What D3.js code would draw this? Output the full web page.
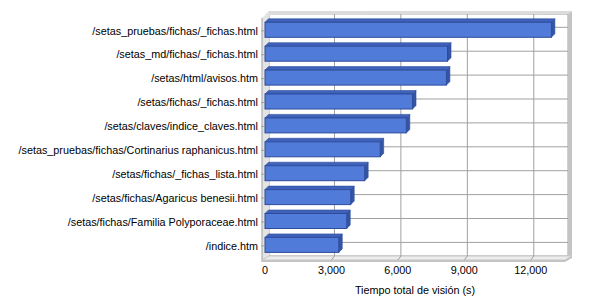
<!DOCTYPE html>
<html>
<head>
<meta charset="utf-8">
<script src="https://cdn.jsdelivr.net/npm/d3@7"></script>
<style>
  body { margin: 0; background: #fff; }
  text { font-family: "Liberation Sans", Arial, sans-serif; font-size: 10.8px; fill: #000; }
</style>
</head>
<body>
<svg id="chart" width="600" height="300"></svg>
<script>
// Data
var pages = [
  "/setas_pruebas/fichas/_fichas.html",
  "/setas_md/fichas/_fichas.html",
  "/setas/html/avisos.htm",
  "/setas/fichas/_fichas.html",
  "/setas/claves/indice_claves.html",
  "/setas_pruebas/fichas/Cortinarius raphanicus.html",
  "/setas/fichas/_fichas_lista.html",
  "/setas/fichas/Agaricus benesii.html",
  "/setas/fichas/Familia Polyporaceae.html",
  "/indice.htm"
];
var seconds = [12930, 8240, 8190, 6660, 6380, 5200, 4500, 3870, 3690, 3330];
var ticks = [0, 3000, 6000, 9000, 12000];
var axisTitle = "Tiempo total de visión (s)";

// pseudo 3d look
var depth = 4, barDepth = 3.5;
var barFront = "#517bd8", barTop = "#3f62bb", barSide = "#3454a6", barLine = "#2e4c9c";
var wallLine = "#a0a0a0", wallFill = "#e4e4e4", wallEdge = "#c4c4c4";

var svg = d3.select("#chart");

var x = d3.scaleLinear().domain([0, 13500]).range([265, 564]);
var y = d3.scaleBand().domain(pages).range([17.85, 256.85])
    .paddingInner(0.372).paddingOuter(0.186);

var floorY = 260, topY = 14;

// back wall
svg.append("rect")
    .attr("x", x(0) + depth).attr("y", topY)
    .attr("width", x.range()[1] - x(0)).attr("height", floorY - depth - topY)
    .attr("fill", "#fff").attr("stroke", wallLine).attr("stroke-width", 1);

// top edge of wall
svg.append("polygon")
    .attr("points", [[x(0), topY + 1], [x(0) + depth, topY - 3], [x.range()[1] + depth + 4, topY - 3], [x.range()[1] + depth, topY]].join(" "))
    .attr("fill", "#dcdcdc");

// right edge thickness
svg.append("polygon")
    .attr("points", [[x.range()[1] + depth, topY], [x.range()[1] + depth + 4, topY - 3], [x.range()[1] + depth + 4, floorY - 5], [x.range()[1] + depth, floorY - 1]].join(" "))
    .attr("fill", wallEdge);

// left wall
svg.append("polygon")
    .attr("points", [[x(0) - 3, topY + 4], [x(0) + depth, topY - 2], [x(0) + depth, floorY - depth], [x(0) - 3, floorY + 2]].join(" "))
    .attr("fill", wallFill);
svg.append("line")
    .attr("x1", x(0) - 3).attr("x2", x(0) - 3).attr("y1", topY + 4).attr("y2", floorY + 2)
    .attr("stroke", wallLine);

// floor
svg.append("polygon")
    .attr("points", [[x(0) - 3, floorY], [x(0) + depth, floorY - depth], [x.range()[1] + depth + 4, floorY - depth], [x.range()[1] + 1, floorY]].join(" "))
    .attr("fill", "#ececec").attr("stroke", "#c8c8c8");
svg.append("polygon")
    .attr("points", [[x(0) - 3, floorY], [x.range()[1] + 1, floorY], [x.range()[1] + depth + 4, floorY - depth], [x.range()[1] + depth + 4, floorY - depth + 2], [x.range()[1] + 1, floorY + 2], [x(0) - 3, floorY + 2]].join(" "))
    .attr("fill", wallEdge);

// vertical gridlines on back wall and floor
svg.selectAll(".vgrid").data(ticks.slice(1)).enter().append("line")
    .attr("class", "vgrid")
    .attr("x1", function(d) { return x(d) + 3; }).attr("x2", function(d) { return x(d) + 3; })
    .attr("y1", topY).attr("y2", floorY - depth)
    .attr("stroke", wallLine);
svg.selectAll(".fgrid").data(ticks.slice(1)).enter().append("line")
    .attr("class", "fgrid")
    .attr("x1", function(d) { return x(d); }).attr("x2", function(d) { return x(d) + 3; })
    .attr("y1", floorY).attr("y2", floorY - depth)
    .attr("stroke", wallLine);

// horizontal gridlines (category centres on back wall)
svg.selectAll(".hgrid").data(pages).enter().append("line")
    .attr("class", "hgrid")
    .attr("x1", x(0) + depth).attr("x2", x.range()[1] + depth)
    .attr("y1", function(d) { return y(d) + y.bandwidth() / 2 - 2.5; })
    .attr("y2", function(d) { return y(d) + y.bandwidth() / 2 - 2.5; })
    .attr("stroke", wallLine);

// bars
var bars = svg.selectAll(".bar").data(pages).enter().append("g").attr("class", "bar");
var h = y.bandwidth();
bars.append("polygon")
    .attr("points", function(d, i) {
      var x0 = x(0), x1 = x(seconds[i]), t = y(d);
      return [[x0, t], [x0 + barDepth, t - barDepth], [x1 + barDepth, t - barDepth], [x1, t]].join(" ");
    })
    .attr("fill", barTop).attr("stroke", barLine).attr("stroke-width", 0.6);
bars.append("polygon")
    .attr("points", function(d, i) {
      var x1 = x(seconds[i]), t = y(d);
      return [[x1, t], [x1 + barDepth, t - barDepth], [x1 + barDepth, t + h - barDepth], [x1, t + h]].join(" ");
    })
    .attr("fill", barSide).attr("stroke", barLine).attr("stroke-width", 0.6);
bars.append("rect")
    .attr("x", x(0))
    .attr("y", function(d) { return y(d); })
    .attr("width", function(d, i) { return x(seconds[i]) - x(0); })
    .attr("height", h)
    .attr("fill", barFront).attr("stroke", barLine).attr("stroke-width", 1);

// category ticks + labels
svg.selectAll(".ctick").data(pages).enter().append("line")
    .attr("class", "ctick")
    .attr("x1", x(0) - 4).attr("x2", x(0))
    .attr("y1", function(d) { return y(d) + h / 2 + 1; })
    .attr("y2", function(d) { return y(d) + h / 2 + 1; })
    .attr("stroke", wallLine);
svg.selectAll(".clabel").data(pages).enter().append("text")
    .attr("class", "clabel")
    .attr("x", 258)
    .attr("y", function(d) { return y(d) + h / 2 + 1; })
    .attr("dy", "0.35em")
    .attr("text-anchor", "end")
    .text(function(d) { return d; });

// value tick labels
var fmt = d3.format(",");
svg.selectAll(".vlabel").data(ticks).enter().append("text")
    .attr("class", "vlabel")
    .attr("x", function(d) { return x(d); })
    .attr("y", 274)
    .attr("text-anchor", "middle")
    .text(function(d) { return fmt(d); });

svg.append("text")
    .attr("x", 415).attr("y", 294)
    .attr("text-anchor", "middle")
    .text(axisTitle);
</script>
</body>
</html>
